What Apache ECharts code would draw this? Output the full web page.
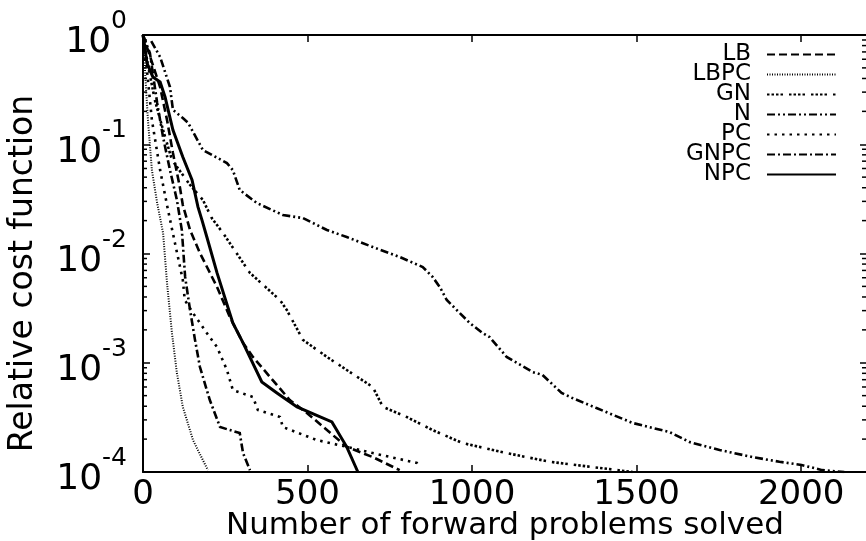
<!DOCTYPE html>
<html>
<head>
<meta charset="utf-8">
<script src="https://cdn.jsdelivr.net/npm/echarts@6/dist/echarts.min.js"></script>
<style>
html,body{margin:0;padding:0;background:#fff;}
#chart{width:866px;height:541px;}
</style>
</head>
<body>
<div id="chart"></div>
<script>
// ---- data (x = forward problems solved, y = relative cost function) ----
const seriesNames = ['LB', 'LBPC', 'GN', 'N', 'PC', 'GNPC', 'NPC'];
const xTicks = [0, 500, 1000, 1500, 2000];
const yTickExponents = [0, -1, -2, -3, -4];

const lbData = [[0,1],[12,0.776],[52,0.334],[73,0.167],[91,0.083],[112,0.0406],[121,0.0278],[143,0.0164],[173,0.0101],[225,0.00493],[264,0.00262],[304,0.00152],[334,0.00113],[386,0.000741],[446,0.000456],[498,0.000347],[559,0.000242],[619,0.00017],[698,0.000137],[780,0.000104]];
const lbpcData = [[0,1],[6,0.478],[15,0.167],[27,0.058],[43,0.029],[61,0.0154],[73,0.00537],[88,0.00187],[103,0.000805],[121,0.000394],[152,0.000196],[197,0.000104]];
const gnData = [[0,1],[15,0.531],[36,0.254],[61,0.135],[88,0.0718],[143,0.0424],[182,0.0309],[209,0.0211],[243,0.0154],[325,0.00664],[416,0.00375],[437,0.00304],[486,0.00162],[559,0.00113],[619,0.000859],[698,0.0006],[729,0.000394],[801,0.000319],[880,0.000242],[971,0.000184],[1105,0.000149],[1236,0.000124],[1366,0.000111],[1488,0.0001]];
const nData = [[25,0.88],[52,0.63],[82,0.334],[91,0.206],[121,0.174],[137,0.157],[182,0.0886],[255,0.0673],[273,0.058],[294,0.0381],[346,0.029],[425,0.0225],[486,0.0211],[559,0.0164],[619,0.01416],[698,0.01148],[780,0.00929],[850,0.00752],[880,0.0061],[902,0.00493],[923,0.00375],[993,0.00231],[1032,0.00187],[1053,0.00172],[1105,0.00113],[1184,0.000822],[1214,0.000773],[1272,0.000529],[1305,0.000475],[1378,0.000385],[1488,0.000281],[1600,0.000232],[1661,0.000188],[1752,0.000159],[1852,0.000137],[1934,0.000124],[2001,0.000116],[2064,0.000104],[2131,0.0001]];
const pcData = [[0,1],[12,0.478],[27,0.167],[52,0.058],[76,0.025],[97,0.0125],[121,0.00572],[127,0.00375],[152,0.00285],[194,0.00187],[225,0.00139],[255,0.000859],[273,0.000563],[334,0.000486],[349,0.00037],[416,0.000319],[425,0.000258],[528,0.000196],[619,0.00017],[698,0.000149],[832,0.000121],[841,0.000109]];
const gnpcData = [[0,1],[21,0.684],[43,0.239],[61,0.116],[82,0.058],[103,0.0309],[118,0.0164],[128,0.0061],[143,0.00304],[158,0.00162],[173,0.000914],[203,0.000456],[234,0.000258],[264,0.000242],[294,0.000227],[304,0.000149],[325,0.000104]];
const npcData = [[0,1],[12,0.554],[30,0.413],[52,0.371],[67,0.271],[91,0.135],[121,0.0764],[149,0.0471],[167,0.0267],[179,0.0203],[194,0.01416],[225,0.00664],[273,0.00231],[304,0.00152],[361,0.000667],[407,0.000529],[468,0.000394],[574,0.000287],[619,0.00017],[653,0.0001]];

const minorTickValues = [];
[-4, -3, -2, -1].forEach(function (e) {
  for (let k = 2; k <= 9; k++) minorTickValues.push(k * Math.pow(10, e));
});

// ---- styling ----
const X_MAX = 2200;
const FONT = 'DejaVu Sans';
const lineStyles = {
  LB:   { width: 2.6, type: [8, 4] },
  LBPC: { width: 2, type: [1, 1.5] },
  GN:   { width: 2.6, type: [2.5, 2, 2.5, 2, 2.5, 2, 2.5, 6] },
  N:    { width: 2.6, type: [8, 3, 2, 3, 2, 3] },
  PC:   { width: 2.6, type: [2.5, 5] },
  GNPC: { width: 2.6, type: [8, 3, 2, 3] },
  NPC:  { width: 3, type: 'solid' }
};
const dataMap = { LB: lbData, LBPC: lbpcData, GN: gnData, N: nData, PC: pcData, GNPC: gnpcData, NPC: npcData };

const chart = echarts.init(document.getElementById('chart'), null, { renderer: 'canvas' });

const lineSeries = seriesNames.map(function (name) {
  return {
    name: name,
    type: 'line',
    data: dataMap[name],
    showSymbol: false,
    symbol: 'none',
    smooth: false,
    clip: true,
    lineStyle: Object.assign({ color: '#000', cap: 'butt', join: 'miter' }, lineStyles[name]),
    itemStyle: { color: '#000' },
    emphasis: { disabled: true },
    z: 3
  };
});

const tickSeries = {
  name: 'minorTicks',
  type: 'custom',
  coordinateSystem: 'cartesian2d',
  xAxisIndex: 0,
  yAxisIndex: 0,
  silent: true,
  clip: false,
  data: minorTickValues.map(function (v) { return [0, v]; }),
  renderItem: function (params, api) {
    const v = api.value(1);
    const pl = api.coord([0, v]);
    const pr = api.coord([X_MAX, v]);
    const st = { stroke: '#000', lineWidth: 1.5 };
    return {
      type: 'group',
      children: [
        { type: 'line', shape: { x1: pl[0], y1: pl[1], x2: pl[0] + 4, y2: pl[1] }, style: st },
        { type: 'line', shape: { x1: pr[0] - 5, y1: pr[1], x2: pr[0], y2: pr[1] }, style: st }
      ]
    };
  },
  z: 4
};

const axisLineStyle = { color: '#000', width: 2 };

chart.setOption({
  animation: false,
  backgroundColor: '#fff',
  textStyle: { fontFamily: FONT },
  grid: { left: 143, right: -1, top: 35, bottom: 69, containLabel: false, outerBoundsMode: 'none' },
  legend: {
    data: seriesNames,
    orient: 'vertical',
    align: 'right',
    right: 29,
    top: 43,
    padding: 0,
    itemGap: -3,
    itemWidth: 69,
    itemHeight: 19,
    selectedMode: false,
    itemStyle: { color: 'transparent', borderColor: 'transparent', borderWidth: 0 },
    textStyle: { fontFamily: FONT, fontSize: 23, color: '#000', padding: [0, 11, 0, 0] }
  },
  xAxis: [{
    type: 'value',
    min: 0,
    max: X_MAX,
    interval: 500,
    position: 'bottom',
    name: 'Number of forward problems solved',
    nameLocation: 'middle',
    nameGap: 38,
    nameMoveOverlap: false,
    nameTextStyle: { fontFamily: FONT, fontSize: 31, color: '#000' },
    axisLine: { show: true, onZero: false, lineStyle: axisLineStyle },
    axisTick: { show: true, inside: true, length: 7, lineStyle: { color: '#000', width: 1.5 } },
    axisLabel: {
      show: true, margin: 6, showMaxLabel: false,
      fontFamily: FONT, fontSize: 34, color: '#000',
      formatter: function (v) { return xTicks.indexOf(v) >= 0 ? String(v) : ''; }
    },
    splitLine: { show: false }
  }, {
    type: 'value',
    min: 0,
    max: X_MAX,
    interval: 500,
    position: 'top',
    axisLine: { show: true, onZero: false, lineStyle: axisLineStyle },
    axisTick: { show: true, inside: true, length: 7, lineStyle: { color: '#000', width: 1.5 } },
    axisLabel: { show: false },
    splitLine: { show: false }
  }],
  yAxis: [{
    type: 'log',
    logBase: 10,
    min: 1e-4,
    max: 1,
    splitNumber: 4,
    position: 'left',
    name: 'Relative cost function',
    nameLocation: 'middle',
    nameRotate: 90,
    nameGap: 103,
    nameMoveOverlap: false,
    nameTextStyle: { fontFamily: FONT, fontSize: 33, color: '#000', padding: [0, 40, 0, 0] },
    axisLine: { show: true, onZero: false, lineStyle: axisLineStyle },
    axisTick: { show: true, inside: true, length: 7, lineStyle: { color: '#000', width: 1.5 } },
    axisLabel: {
      show: true, margin: 16,
      formatter: function (v) {
        const e = Math.round(Math.log10(v));
        return '{b|10}{s|' + e + '}';
      },
      rich: {
        b: { fontFamily: FONT, fontSize: 36, color: '#000', verticalAlign: 'bottom', lineHeight: 52 },
        s: { fontFamily: FONT, fontSize: 25, color: '#000', verticalAlign: 'top', lineHeight: 25 }
      }
    },
    splitLine: { show: false }
  }, {
    type: 'log',
    logBase: 10,
    min: 1e-4,
    max: 1,
    splitNumber: 4,
    position: 'right',
    axisLine: { show: true, onZero: false, lineStyle: axisLineStyle },
    axisTick: { show: true, inside: true, length: 7, lineStyle: { color: '#000', width: 1.5 } },
    axisLabel: { show: false },
    splitLine: { show: false }
  }],
  series: lineSeries.concat([tickSeries])
});
</script>
</body>
</html>
